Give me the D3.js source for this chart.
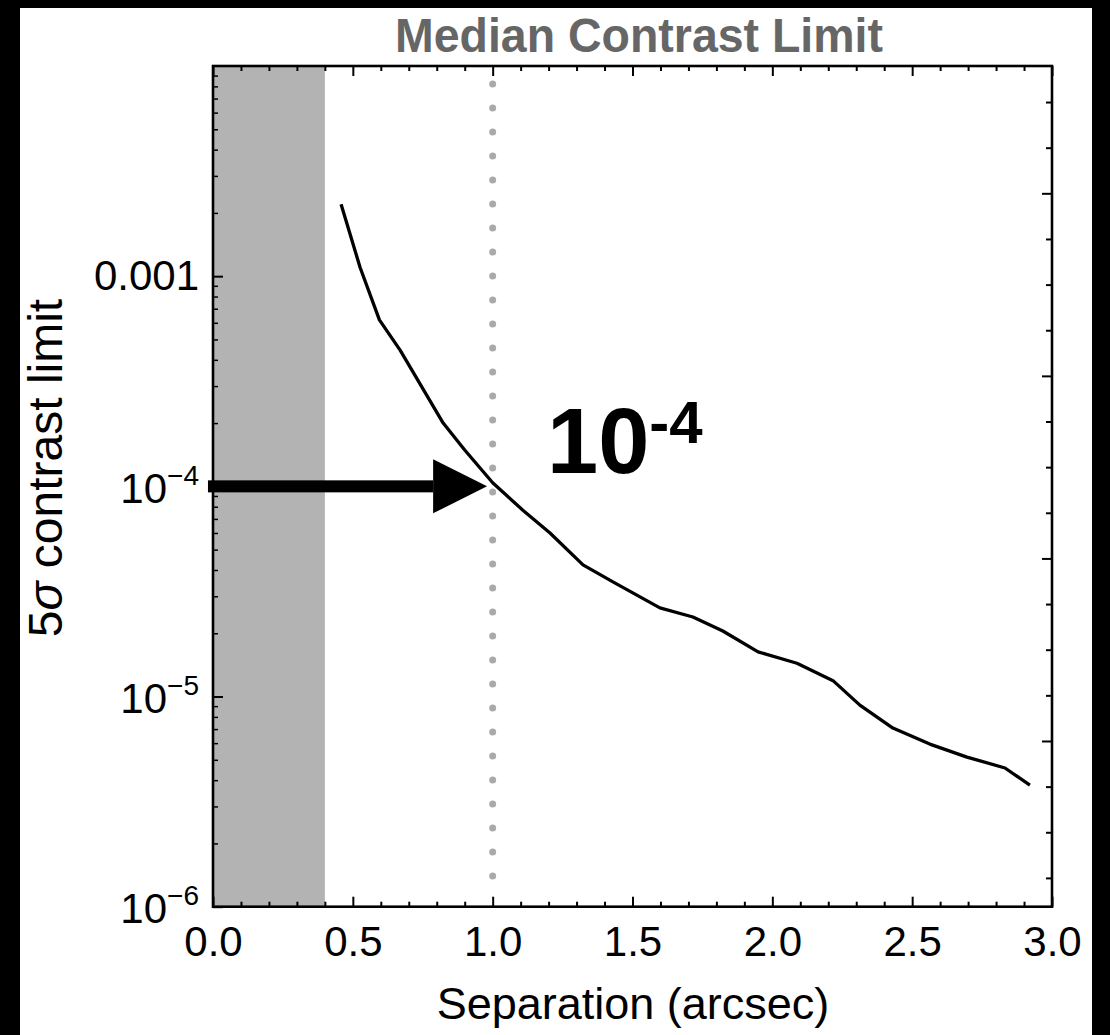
<!DOCTYPE html>
<html>
<head>
<meta charset="utf-8">
<script src="https://cdn.jsdelivr.net/npm/d3@7"></script>
<style>
  body { margin: 0; background: #000; }
  svg { display: block; }
  .frame text { font-family: "Liberation Sans", Arial, sans-serif; }
</style>
</head>
<body>
<div id="vis"></div>
<script>
const FRAME_WIDTH = 1110;
const FRAME_HEIGHT = 1035;
const PLOT = {left: 213, right: 1052, top: 66, bottom: 906.7};

// median 5-sigma contrast curve
const separation = [0.458, 0.526, 0.595, 0.669, 0.823, 0.900, 1.000, 1.108, 1.205,
                    1.323, 1.430, 1.598, 1.716, 1.823, 1.949, 2.088, 2.217, 2.313,
                    2.431, 2.563, 2.696, 2.832, 2.921];
const contrast = [2.2e-3, 1.1e-3, 6.2e-4, 4.45e-4, 2.0e-4, 1.49e-4, 1.04e-4, 7.7e-5, 6.0e-5,
                  4.23e-5, 3.51e-5, 2.64e-5, 2.39e-5, 2.05e-5, 1.63e-5, 1.44e-5, 1.19e-5, 9.1e-6,
                  7.08e-6, 5.94e-6, 5.15e-6, 4.57e-6, 3.79e-6];

// axis ticks
const xMajor = [0.0, 0.5, 1.0, 1.5, 2.0, 2.5, 3.0];
const yMajor = [1e-6, 1e-5, 1e-4, 1e-3];
const yLabels = ["10|6", "10|5", "10|4", "0.001"];   // "10|n" -> 10 with superscript -n

// masked inner region and reference separation
const maskEdge = 0.4;
const refSep = 1.0;
const refContrast = 1e-4;

const svg = d3.select("#vis")
  .append("svg")
    .attr("width", FRAME_WIDTH)
    .attr("height", FRAME_HEIGHT)
    .attr("class", "frame");

// white panel on the black page
svg.append("rect")
  .attr("x", 20).attr("y", 8)
  .attr("width", 1072).attr("height", FRAME_HEIGHT - 8)
  .attr("fill", "#fff");

const X_SCALE = d3.scaleLinear().domain([0, 3]).range([PLOT.left, PLOT.right]);
const Y_SCALE = d3.scaleLog().domain([1e-6, 1e-2]).range([PLOT.bottom, PLOT.top]);

// gray mask
svg.append("rect")
  .attr("x", X_SCALE(0))
  .attr("y", Y_SCALE(1e-2))
  .attr("width", X_SCALE(maskEdge) - X_SCALE(0))
  .attr("height", Y_SCALE(1e-6) - Y_SCALE(1e-2))
  .attr("fill", "#b3b3b3");

// dotted line at 1 arcsec
svg.append("line")
  .attr("x1", X_SCALE(refSep)).attr("x2", X_SCALE(refSep))
  .attr("y1", Y_SCALE(1e-6) - 30.7).attr("y2", Y_SCALE(1e-2) + 10)
  .attr("stroke", "#aaaaaa")
  .attr("stroke-width", 7)
  .attr("stroke-linecap", "round")
  .attr("stroke-dasharray", "0 24");

// contrast curve
const line = d3.line()
  .x((d, i) => X_SCALE(separation[i]))
  .y((d) => Y_SCALE(d));

svg.append("path")
  .datum(contrast)
  .attr("d", line)
  .attr("fill", "none")
  .attr("stroke", "#000")
  .attr("stroke-width", 3.3)
  .attr("stroke-linejoin", "round");

// arrow pointing at 1e-4
const ay = Y_SCALE(refContrast);
svg.append("rect")
  .attr("x", X_SCALE(-0.018))
  .attr("y", ay - 6)
  .attr("width", X_SCALE(0.787) - X_SCALE(-0.018))
  .attr("height", 12)
  .attr("fill", "#000");
svg.append("path")
  .attr("d", `M${X_SCALE(0.787)},${ay - 27}L${X_SCALE(0.98)},${ay}L${X_SCALE(0.787)},${ay + 27}Z`)
  .attr("fill", "#000");

// big annotation
const note = svg.append("text")
  .attr("x", 547).attr("y", 473)
  .attr("font-family", "'Open Sans', sans-serif")
  .attr("font-weight", 700)
  .attr("font-size", 92)
  .attr("fill", "#000");
note.append("tspan").text("10");
note.append("tspan").attr("dy", -30).attr("font-size", 60).text("-4");

// axes: ticks point inward
function styleAxis(g) {
  g.select(".domain").remove();
  g.selectAll(".tick line").attr("stroke", "#000").attr("stroke-width", 2);
  g.selectAll("text").attr("fill", "#000").attr("font-size", 42);
}

const xMinor = d3.range(0, 31).map((i) => i / 10).filter((v) => !xMajor.includes(v));

svg.append("g")
  .attr("transform", `translate(0,${PLOT.bottom})`)
  .call(d3.axisBottom(X_SCALE).tickValues(xMinor).tickSize(-5).tickFormat(""))
  .call(styleAxis);
svg.append("g")
  .attr("transform", `translate(0,${PLOT.bottom})`)
  .call(d3.axisBottom(X_SCALE).tickValues(xMajor).tickSize(-10)
        .tickPadding(19).tickFormat(d3.format(".1f")))
  .call(styleAxis);

svg.append("g")
  .attr("transform", `translate(0,${PLOT.top})`)
  .call(d3.axisTop(X_SCALE).tickValues(xMinor).tickSize(-5).tickFormat(""))
  .call(styleAxis);
svg.append("g")
  .attr("transform", `translate(0,${PLOT.top})`)
  .call(d3.axisTop(X_SCALE).tickValues(xMajor).tickSize(-10).tickFormat(""))
  .call(styleAxis);

// left log axis
const yMinor = [];
[-6, -5, -4, -3].forEach((e) => {
  for (let m = 2; m <= 9; m++) yMinor.push(m * Math.pow(10, e));
});

svg.append("g")
  .attr("transform", `translate(${PLOT.left},0)`)
  .call(d3.axisLeft(Y_SCALE).tickValues(yMinor).tickSize(-5).tickFormat(""))
  .call(styleAxis)
  .selectAll(".tick line").attr("stroke-width", 1.5);

const yAxis = svg.append("g")
  .attr("transform", `translate(${PLOT.left},0)`)
  .call(d3.axisLeft(Y_SCALE).tickValues(yMajor).tickSize(-10).tickPadding(14)
        .tickFormat((d, i) => yLabels[i]))
  .call(styleAxis);

yAxis.selectAll(".tick text").each(function(d, i) {
  const lab = yLabels[i];
  const t = d3.select(this);
  if (lab.includes("|")) {
    const parts = lab.split("|");
    t.text(null).attr("dy", "0.38em");
    t.append("tspan").text(parts[0]);
    t.append("tspan").attr("dy", -18).attr("font-size", 28).text("\u2212" + parts[1]);
  }
});

// right axis: Mathematica placed these at natural-log steps
const rightTicks = d3.range(-13.5, -4.9, 0.5);
svg.append("g")
  .attr("transform", `translate(${PLOT.right},0)`)
  .call(d3.axisRight(Y_SCALE).tickValues(rightTicks.filter((v) => v % 2 !== 0).map(Math.exp))
        .tickSize(-6).tickFormat(""))
  .call(styleAxis);
svg.append("g")
  .attr("transform", `translate(${PLOT.right},0)`)
  .call(d3.axisRight(Y_SCALE).tickValues(rightTicks.filter((v) => v % 2 === 0).map(Math.exp))
        .tickSize(-10).tickFormat(""))
  .call(styleAxis);

// frame
svg.append("rect")
  .attr("x", PLOT.left).attr("y", PLOT.top)
  .attr("width", PLOT.right - PLOT.left)
  .attr("height", PLOT.bottom - PLOT.top)
  .attr("fill", "none")
  .attr("stroke", "#000")
  .attr("stroke-width", 2.6);

// titles
svg.append("text")
  .attr("x", 639).attr("y", 52)
  .attr("text-anchor", "middle")
  .attr("font-size", 49)
  .attr("font-weight", 700)
  .attr("fill", "#666666")
  .attr("textLength", 488)
  .attr("lengthAdjust", "spacingAndGlyphs")
  .text("Median Contrast Limit");

svg.append("text")
  .attr("x", 633).attr("y", 1019)
  .attr("text-anchor", "middle")
  .attr("font-size", 45)
  .attr("fill", "#000")
  .text("Separation (arcsec)");

const ylab = svg.append("text")
  .attr("transform", "translate(62,468) rotate(-90)")
  .attr("text-anchor", "middle")
  .attr("font-size", 48)
  .attr("fill", "#000");
ylab.append("tspan").text("5");
ylab.append("tspan").attr("font-style", "italic").text("\u03c3");
ylab.append("tspan").text(" contrast limit");
</script>
</body>
</html>
